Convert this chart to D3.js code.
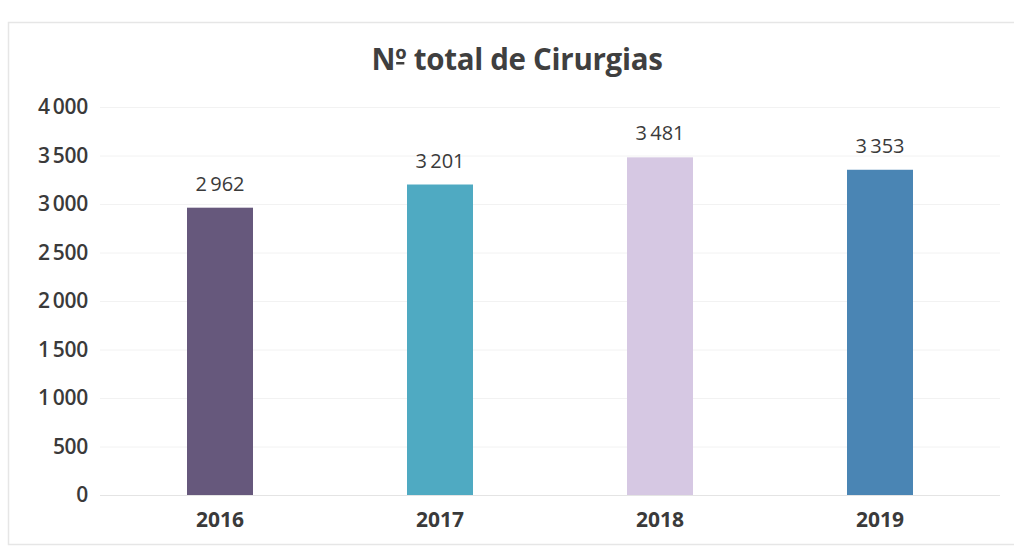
<!DOCTYPE html>
<html>
<head>
<meta charset="utf-8">
<script src="https://cdn.jsdelivr.net/npm/d3@7"></script>
<style>
  html, body { margin: 0; padding: 0; background: #ffffff; }
  svg { display: block; }
</style>
</head>
<body>
<svg id="chart" width="1014" height="550"></svg>
<script>
// Total surgeries per year
const years = ["2016", "2017", "2018", "2019"];
const totals = [2962, 3201, 3481, 3353];
const barColors = ["#66587c", "#4faac2", "#d6c8e3", "#4a85b4"];
const yTicks = [0, 500, 1000, 1500, 2000, 2500, 3000, 3500, 4000];
const title = "Nº total de Cirurgias";

const width = 1014, height = 550;
const margin = { top: 107, right: 24, bottom: 55, left: 110 };
const font = "'Open Sans', 'Noto Sans', sans-serif";
const fmt = v => d3.format(",")(v).replace(/,/g, "\u2009");

const svg = d3.select("#chart");

// chart frame
svg.append("rect")
  .attr("x", 8.5).attr("y", 22.5)
  .attr("width", 1010).attr("height", 522)
  .attr("fill", "none")
  .attr("stroke", "#e6e6e6")
  .attr("stroke-width", 1.5);

const x = d3.scaleBand()
  .domain(years)
  .range([margin.left, width - margin.right])
  .paddingInner(0.7)
  .paddingOuter(0.35);

const y = d3.scaleLinear()
  .domain([0, 4000])
  .range([height - margin.bottom, margin.top]);

// gridlines
svg.append("g")
  .selectAll("line")
  .data(yTicks)
  .join("line")
  .attr("x1", margin.left - 10)
  .attr("x2", width - margin.right + 10)
  .attr("y1", d => y(d) + 0.5)
  .attr("y2", d => y(d) + 0.5)
  .attr("stroke", d => d === 0 ? "#e4e4e4" : "#f2f2f2")
  .attr("stroke-width", 1);

// y axis labels
const yAxis = d3.axisLeft(y)
  .tickValues(yTicks)
  .tickFormat(fmt)
  .tickSize(0)
  .tickPadding(0);
const gy = svg.append("g")
  .attr("transform", `translate(88,0)`)
  .call(yAxis);
gy.select(".domain").remove();
gy.selectAll("text")
  .attr("font-family", font)
  .attr("font-size", 21)
  .attr("font-weight", 600)
  .attr("letter-spacing", -0.3)
  .attr("fill", "#3a3a3a");

// x axis labels
const xAxis = d3.axisBottom(x).tickSize(0).tickPadding(0);
const gx = svg.append("g")
  .attr("transform", `translate(0,${height - margin.bottom + 17})`)
  .call(xAxis);
gx.select(".domain").remove();
gx.selectAll("text")
  .attr("font-family", font)
  .attr("font-size", 21)
  .attr("font-weight", 700)
  .attr("fill", "#3a3a3a");

// bars
svg.append("g")
  .selectAll("rect")
  .data(years)
  .join("rect")
  .attr("x", d => x(d))
  .attr("y", (d, i) => y(totals[i]))
  .attr("width", x.bandwidth())
  .attr("height", (d, i) => y(0) - y(totals[i]))
  .attr("fill", (d, i) => barColors[i]);

// value labels
svg.append("g")
  .selectAll("text")
  .data(years)
  .join("text")
  .attr("x", d => x(d) + x.bandwidth() / 2)
  .attr("y", (d, i) => y(totals[i]) - 17)
  .attr("text-anchor", "middle")
  .attr("font-family", font)
  .attr("font-size", 20)
  .attr("font-weight", 500)
  .attr("fill", "#3a3a3a")
  .text((d, i) => fmt(totals[i]));

// title
const titleY = 70;
const t = svg.append("text")
  .attr("x", 517)
  .attr("y", titleY)
  .attr("text-anchor", "middle")
  .attr("font-family", font)
  .attr("font-size", 29.5)
  .attr("font-weight", 700)
  .attr("letter-spacing", -0.3)
  .attr("fill", "#3f3f3f")
  .text(title);

// bar under the ordinal indicator ("Nº" with underlined º)
const node = t.node();
const box = node.getBBox();
const nW = node.getSubStringLength(0, 1);
const oW = node.getSubStringLength(1, 1);
svg.append("rect")
  .attr("x", box.x + nW + 1)
  .attr("y", titleY - 8)
  .attr("width", Math.max(8, oW - 3))
  .attr("height", 2.5)
  .attr("fill", "#3f3f3f");
</script>
</body>
</html>
